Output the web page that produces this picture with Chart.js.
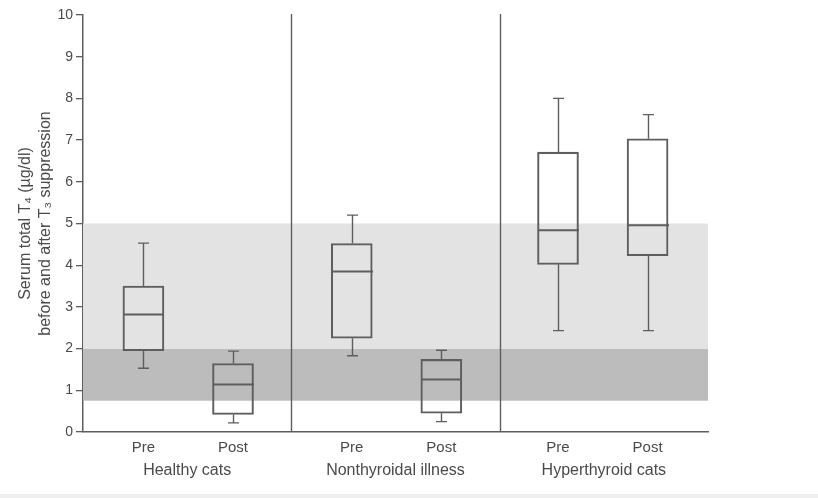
<!DOCTYPE html>
<html>
<head>
<meta charset="utf-8">
<script src="https://cdn.jsdelivr.net/npm/chart.js@4/dist/chart.umd.min.js"></script>
<style>
  html, body { margin: 0; padding: 0; background: #efefef; }
  #wrap { width: 818px; height: 494px; background: #ffffff; }
</style>
</head>
<body>
<div id="wrap"><canvas id="c" width="818" height="494"></canvas></div>
<script>
// Serum total T4 before (Pre) and after (Post) T3 suppression, three groups of cats
const groups = ['Healthy cats', 'Nonthyroidal illness', 'Hyperthyroid cats'];
const phases = ['Pre', 'Post', 'Pre', 'Post', 'Pre', 'Post'];
const positions = [0.29, 0.72, 1.29, 1.72, 2.28, 2.71];   // box centres on the x scale
const groupCentres = [0.5, 1.5, 2.5];
const dividers = [1, 2];

const whiskerLow  = [1.53, 0.22, 1.83, 0.25, 2.43, 2.43];
const quartile1   = [1.95, 0.42, 2.25, 0.45, 4.02, 4.23];
const median      = [2.82, 1.14, 3.85, 1.26, 4.84, 4.96];
const quartile3   = [3.50, 1.64, 4.52, 1.74, 6.71, 7.03];
const whiskerHigh = [4.53, 1.94, 5.20, 1.96, 8.00, 7.61];

// shaded reference ranges
const bandLow  = [0.75, 2];
const bandHigh = [2, 5];
const bandFill = ['#bcbcbc', '#e3e3e3'];

const yTicks = [0, 1, 2, 3, 4, 5, 6, 7, 8, 9, 10];

const INK = '#5e5e5e';
const TEXT = '#4a4a4a';
const FONT = "'Liberation Sans', Arial, Helvetica, sans-serif";

const boxData = positions.map((p, i) => ({ x: p, y: [quartile1[i], quartile3[i]] }));

const boxExtras = {
  id: 'boxExtras',
  beforeDatasetsDraw(chart) {
    const { ctx, chartArea, scales } = chart;
    const y = scales.y;
    ctx.save();
    bandLow.forEach((lo, i) => {
      const top = y.getPixelForValue(bandHigh[i]);
      const bot = y.getPixelForValue(lo);
      ctx.fillStyle = bandFill[i];
      ctx.fillRect(chartArea.left, top, chartArea.right - chartArea.left, bot - top);
    });
    // group dividers
    ctx.strokeStyle = INK;
    ctx.lineWidth = 1.4;
    dividers.forEach(d => {
      const px = Math.round(scales.x.getPixelForValue(d)) + 0.5;
      ctx.beginPath();
      ctx.moveTo(px, chartArea.top - 1);
      ctx.lineTo(px, chartArea.bottom);
      ctx.stroke();
    });
    ctx.restore();
  },
  afterDatasetsDraw(chart) {
    const { ctx, scales } = chart;
    const x = scales.x, y = scales.y;
    const half = 20.5, cap = 5.5;
    ctx.save();
    ctx.strokeStyle = INK;
    positions.forEach((p, i) => {
      const cx = Math.round(x.getPixelForValue(p)) + 0.5;
      ctx.lineWidth = 1.4;
      ctx.beginPath();
      // upper whisker
      ctx.moveTo(cx, y.getPixelForValue(quartile3[i]));
      ctx.lineTo(cx, y.getPixelForValue(whiskerHigh[i]));
      ctx.moveTo(cx - cap, y.getPixelForValue(whiskerHigh[i]));
      ctx.lineTo(cx + cap, y.getPixelForValue(whiskerHigh[i]));
      // lower whisker
      ctx.moveTo(cx, y.getPixelForValue(quartile1[i]));
      ctx.lineTo(cx, y.getPixelForValue(whiskerLow[i]));
      ctx.moveTo(cx - cap, y.getPixelForValue(whiskerLow[i]));
      ctx.lineTo(cx + cap, y.getPixelForValue(whiskerLow[i]));
      ctx.stroke();
      // median
      ctx.lineWidth = 2;
      ctx.beginPath();
      ctx.moveTo(cx - half, y.getPixelForValue(median[i]));
      ctx.lineTo(cx + half, y.getPixelForValue(median[i]));
      ctx.stroke();
    });
    ctx.restore();
  }
};

new Chart(document.getElementById('c'), {
  type: 'bar',
  data: {
    datasets: [{
      data: boxData,
      backgroundColor: 'rgba(0,0,0,0)',
      borderColor: INK,
      borderWidth: 1.4,
      borderSkipped: false,
      barThickness: 41
    }]
  },
  options: {
    responsive: false,
    animation: false,
    events: [],
    layout: { padding: { top: 15, right: 110, left: 0, bottom: 0 } },
    plugins: { legend: { display: false }, tooltip: { enabled: false } },
    scales: {
      x: {
        type: 'linear',
        min: 0, max: 3,
        offset: false,
        position: 'bottom',
        afterBuildTicks(scale) { scale.ticks = positions.map(v => ({ value: v })); },
        afterFit(scale) { scale.height = 24; },
        ticks: {
          autoSkip: false, maxRotation: 0, padding: 7,
          color: TEXT, font: { family: FONT, size: 15 },
          callback: (v, i) => phases[i]
        },
        grid: { display: true, offset: false, drawOnChartArea: false, drawTicks: false, color: 'rgba(0,0,0,0)' },
        border: { display: true, color: INK, width: 1.5 }
      },
      x2: {
        type: 'linear',
        min: 0, max: 3,
        offset: false,
        position: 'bottom',
        afterBuildTicks(scale) { scale.ticks = groupCentres.map(v => ({ value: v })); },
        afterFit(scale) { scale.height = 38; },
        ticks: {
          autoSkip: false, maxRotation: 0, padding: 5,
          color: TEXT, font: { family: FONT, size: 16 },
          callback: (v, i) => groups[i]
        },
        grid: { display: false, offset: false, drawTicks: false },
        border: { display: false }
      },
      y: {
        min: 0, max: 10,
        afterBuildTicks(scale) { scale.ticks = yTicks.map(v => ({ value: v })); },
        afterFit(scale) { scale.width = 83; },
        ticks: { padding: 3, color: TEXT, font: { family: FONT, size: 14 } },
        grid: { display: true, drawOnChartArea: false, drawTicks: true, tickLength: 7, color: INK, lineWidth: 1.3 },
        border: { display: true, color: INK, width: 1.5 },
        title: {
          display: true,
          text: ['Serum total T\u2084 (\u00b5g/dl)', 'before and after T\u2083 suppression'],
          color: TEXT,
          font: { family: FONT, size: 16, lineHeight: 1.25 },
          padding: { top: 16, bottom: 0 }
        }
      }
    }
  },
  plugins: [boxExtras]
});
</script>
</body>
</html>
